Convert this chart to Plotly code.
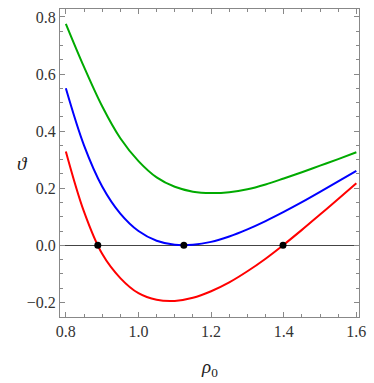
import plotly.graph_objects as go

rho = [0.80, 0.85, 0.90, 0.95, 1.00, 1.05, 1.10, 1.15, 1.20, 1.25,
       1.30, 1.35, 1.40, 1.45, 1.50, 1.55, 1.60]

theta_red = [0.329, 0.118, -0.030, -0.115, -0.168, -0.191, -0.195, -0.184, -0.161, -0.130,
             -0.091, -0.047, 0.002, 0.054, 0.108, 0.162, 0.217]
theta_blue = [0.550, 0.350, 0.206, 0.111, 0.050, 0.016, 0.002, 0.002, 0.012, 0.031,
              0.056, 0.085, 0.117, 0.151, 0.187, 0.224, 0.261]
theta_green = [0.776, 0.625, 0.487, 0.375, 0.295, 0.238, 0.205, 0.188, 0.183, 0.186,
               0.196, 0.213, 0.234, 0.256, 0.279, 0.302, 0.326]

# marked roots
root_x = [0.888, 1.125, 1.398]
root_y = [0, 0, 0]

fig = go.Figure()
for ys, col in [(theta_green, '#00AA00'), (theta_blue, '#0000FF'), (theta_red, '#FF0000')]:
    fig.add_trace(go.Scatter(x=rho, y=ys, mode='lines',
                             line=dict(color=col, width=2, shape='spline', smoothing=1.0),
                             showlegend=False, hoverinfo='skip'))

fig.add_trace(go.Scatter(x=root_x, y=root_y, mode='markers',
                         marker=dict(color='black', size=7), showlegend=False))

axis_common = dict(ticks='inside', ticklen=5, tickcolor='#888', mirror='allticks',
                   showline=True, linecolor='#888', linewidth=1, showgrid=False,
                   tickfont=dict(family='Liberation Serif', size=16, color='#333'))

fig.update_layout(
    width=374, height=383,
    margin=dict(l=60, r=8, t=8, b=66),
    plot_bgcolor='white', paper_bgcolor='white',
    font=dict(family='Liberation Serif', size=16, color='#333'),
    xaxis=dict(range=[0.7839, 1.6073], tickvals=[0.8, 1.0, 1.2, 1.4, 1.6],
               ticktext=['0.8', '1.0', '1.2', '1.4', '1.6'], zeroline=False,
               minor=dict(ticks='inside', dtick=0.05, tick0=0.8, ticklen=3, tickcolor='#888'),
               **axis_common),
    yaxis=dict(range=[-0.2513, 0.828], tickvals=[-0.2, 0.0, 0.2, 0.4, 0.6, 0.8],
               ticktext=['\u22120.2', '0.0', '0.2', '0.4', '0.6', '0.8'],
               zeroline=True, zerolinecolor='#444', zerolinewidth=1,
               minor=dict(ticks='inside', dtick=0.05, tick0=0, ticklen=3, tickcolor='#888'),
               **axis_common),
    annotations=[
        dict(text='<i>\u03d1</i>', xref='paper', yref='paper', x=-0.125, y=0.5,
             xanchor='center', yanchor='middle', showarrow=False,
             font=dict(family='Liberation Serif', size=19, color='#222')),
        dict(text='<i>\u03c1</i><sub>0</sub>', xref='paper', yref='paper', x=0.5, y=-0.165,
             xanchor='center', yanchor='middle', showarrow=False,
             font=dict(family='Liberation Serif', size=19, color='#222')),
    ],
)

# drop the page's default body margin so the figure sits at the top-left corner
fig.write_html("out.html", config={'displayModeBar': False},
               post_script="document.body.style.margin='0';")
